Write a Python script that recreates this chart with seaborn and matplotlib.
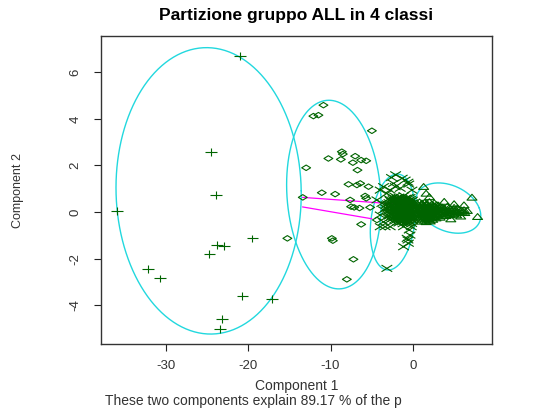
import numpy as np
import pandas as pd
import seaborn as sns
import matplotlib
matplotlib.use("Agg")
import matplotlib.pyplot as plt
from matplotlib.path import Path
from matplotlib.markers import MarkerStyle

# ---------------- data ----------------
title_text = "Partizione gruppo ALL in 4 classi"
xlabel_text = "Component 1"
ylabel_text = "Component 2"
sub_text = "These two components explain 89.17 % of the p"

x_ticks = [-30, -20, -10, 0]
x_tick_labels = ["-30", "-20", "-10", "0"]
y_ticks = [-4, -2, 0, 2, 4, 6]
y_tick_labels = ["-4", "-2", "0", "2", "4", "6"]
x_limits = [-37.9, 9.6]
y_limits = [-5.68, 7.56]

# cluster 1 (+)
c1_x = [-20.98, -24.54, -23.94, -35.89, -19.49, -23.82, -22.93, -24.71,
        -32.13, -30.70, -20.70, -17.13, -23.21, -23.41]
c1_y = [6.70, 2.58, 0.73, 0.04, -1.13, -1.42, -1.45, -1.80,
        -2.46, -2.85, -3.61, -3.72, -4.58, -5.03]

# cluster 2 (diamonds)
c2_x = [-10.86, -12.08, -11.47, -4.98, -8.63, -8.51, -10.26, -8.75, -7.01,
        -6.28, -5.67, -7.29, -6.73, -12.96, -7.82, -6.80, -6.40, -5.39,
        -11.06, -9.44, -7.62, -5.80, -5.67, -13.37, -7.50, -7.13, -6.49,
        -5.19, -4.37, -6.28, -15.24, -9.84, -9.72, -7.22, -8.02]
c2_y = [4.59, 4.12, 4.16, 3.49, 2.59, 2.49, 2.30, 2.26, 2.40,
        2.23, 2.20, 2.12, 1.80, 1.90, 1.19, 1.16, 1.23, 1.09,
        0.83, 0.77, 0.52, 0.69, 0.59, 0.63, 0.23, 0.20, 0.17,
        0.20, -0.34, -0.53, -1.13, -1.13, -1.23, -2.03, -2.89]

# cluster 3 (x)
c3_x = [-2.10, -0.94, -0.50, -3.97, -2.15, -3.16, -2.76, -4.37, -3.57, -3.97,
        -2.76, -1.14, -3.37, -0.45, -0.20, -0.55, -1.14, -3.16, -0.35, -2.60,
        -1.30, -0.60, -2.36, -3.57, -1.54, -0.12, -0.70, -3.77, -3.16, -3.57,
        -2.76, -3.97, -2.36, -2.55, -0.60,
        -2.2, -1.7, -1.1, -0.6,
        -2.9, -2.4, -1.9, -1.4, -0.9, -0.3,
        -2.6, -2.1, -1.6, -1.2, -0.7, -0.2,
        -3.1, -2.3, -1.8, -1.3, -0.9, -0.4, 0.0,
        -2.7, -2.0, -1.5, -1.0, -0.6, -0.1,
        -3.3, -2.4, -1.9, -1.3, -0.8, -0.3, 0.1,
        -2.8, -2.1, -1.6, -1.1, -0.5, 0.0,
        -3.0, -2.3, -1.8, -1.2, -0.7, -0.2, 0.15,
        -2.6, -2.0, -1.4, -0.9, -0.4, 0.05,
        -2.9, -2.2, -1.7, -1.1, -0.6, -0.1,
        -2.4, -1.9, -1.3, -0.8, -0.3, 0.1,
        -2.1, -1.5, -1.0, -0.5, -0.05,
        -1.7, -1.2, -0.6, -0.15,
        -2.45, -1.95, -1.4, -0.85, -0.35,
        -2.75, -2.2, -1.65, -1.1, -0.55, -0.05,
        -2.9, -2.0, -1.45, -1.0, -0.5, -0.1,
        -3.2, -2.5, -1.7, -1.2, -0.75, -0.25,
        -2.9, -2.15, -1.65, -1.1, -0.55, -0.05,
        -3.1, -2.6, -1.85, -1.35, -0.75, -0.25,
        -2.55, -2.0, -1.45, -0.95, -0.4, 0.1,
        -2.8, -2.15, -1.6, -1.05, -0.55, -0.05,
        -2.45, -1.9, -1.3, -0.8, -0.3,
        -2.65, -2.0, -1.45, -0.9, -0.4, 0.0,
        -2.2, -1.65, -1.15, -0.6, -0.15,
        -1.9, -1.3, -0.8, -0.3]
c3_y = [1.60, 1.37, 1.20, 0.94, 1.09, 0.80, 0.94, 0.52, 0.09, -0.13,
        -0.34, -0.63, -0.63, -0.77, -0.63, -1.34, -1.49, -2.42, -0.99, 1.48,
        1.45, 1.28, 1.23, 1.09, 1.02, 0.94, -1.13, 0.37, -0.20, -0.42,
        -0.63, -0.63, 0.23, -0.06, -1.20,
        0.68, 0.64, 0.70, 0.62,
        0.57, 0.53, 0.56, 0.52, 0.58, 0.54,
        0.44, 0.47, 0.43, 0.46, 0.42, 0.47,
        0.35, 0.38, 0.34, 0.37, 0.33, 0.36, 0.39,
        0.26, 0.29, 0.25, 0.28, 0.24, 0.27,
        0.17, 0.19, 0.16, 0.20, 0.15, 0.18, 0.16,
        0.08, 0.11, 0.07, 0.10, 0.06, 0.09,
        0.01, -0.02, 0.02, -0.01, 0.03, -0.02, 0.00,
        -0.08, -0.11, -0.07, -0.10, -0.08, -0.10,
        -0.17, -0.19, -0.16, -0.20, -0.17, -0.19,
        -0.27, -0.30, -0.26, -0.29, -0.27, -0.30,
        -0.37, -0.40, -0.36, -0.39, -0.37,
        -0.47, -0.50, -0.46, -0.49,
        0.61, 0.60, 0.63, 0.59, 0.62,
        0.50, 0.49, 0.52, 0.50, 0.48, 0.51,
        0.40, 0.41, 0.39, 0.40, 0.42, 0.38,
        0.31, 0.30, 0.32, 0.30, 0.31, 0.29,
        0.22, 0.23, 0.21, 0.22, 0.24, 0.21,
        0.13, 0.12, 0.14, 0.12, 0.13, 0.11,
        0.04, 0.05, 0.03, 0.04, 0.05, 0.03,
        -0.05, -0.04, -0.06, -0.05, -0.04, -0.06,
        -0.14, -0.13, -0.15, -0.14, -0.13,
        -0.23, -0.24, -0.22, -0.23, -0.24, -0.22,
        -0.33, -0.32, -0.34, -0.33, -0.32,
        -0.43, -0.42, -0.44, -0.43]

# cluster 4 (triangles)
c4_x = [1.30, 7.17, 7.85, 3.8, 5.0, 6.2, 4.6, 2.0, 1.6,
        0.8, 1.4, 2.0,
        0.6, 1.1, 1.7, 2.3, 2.9,
        0.9, 1.5, 2.1, 2.7, 3.4, 4.2,
        0.7, 1.2, 1.8, 2.4, 3.0, 3.8, 4.6, 5.4,
        1.0, 1.6, 2.2, 2.8, 3.5, 4.3, 5.1, 5.9, 6.6,
        0.8, 1.3, 1.9, 2.5, 3.2, 4.0, 4.8, 5.6, 6.3,
        1.1, 1.7, 2.3, 2.9, 3.7, 4.5, 5.3,
        0.9, 1.4, 2.0, 2.6, 3.3, 5.8,
        1.2, 1.8, 2.4,
        1.0, 1.6, 2.1,
        1.1, 1.7, 2.6,
        0.7, 1.3, 1.9, 2.5, 3.1,
        1.0, 1.6, 2.2, 2.9, 3.6, 4.4, 5.0,
        0.8, 1.4, 2.0, 2.6, 3.3, 4.0, 4.9, 5.6, 6.2,
        1.1, 1.7, 2.3, 3.0, 3.7, 4.5, 5.3, 6.0,
        0.9, 1.5, 2.1, 2.7, 3.4, 4.2, 5.0,
        1.2, 1.8, 2.4, 3.0, 4.0,
        1.0, 1.6, 2.2, 2.8,
        1.4, 2.0]
c4_y = [1.09, 0.63, -0.20, 0.45, 0.35, 0.30, -0.30, 0.65, 0.80,
        0.43, 0.41, 0.44,
        0.33, 0.35, 0.32, 0.34, 0.31,
        0.24, 0.26, 0.23, 0.25, 0.22, 0.25,
        0.15, 0.17, 0.14, 0.16, 0.13, 0.16, 0.14, 0.17,
        0.06, 0.08, 0.05, 0.07, 0.04, 0.07, 0.05, 0.08, 0.06,
        -0.03, -0.01, -0.04, -0.02, -0.05, -0.02, -0.04, -0.01, -0.03,
        -0.12, -0.10, -0.13, -0.11, -0.14, -0.11, -0.13,
        -0.21, -0.19, -0.22, -0.20, -0.23, -0.18,
        -0.31, -0.29, -0.32,
        -0.40, -0.42, -0.39,
        0.38, 0.37, 0.39,
        0.28, 0.29, 0.27, 0.28, 0.29,
        0.19, 0.20, 0.18, 0.19, 0.20, 0.18, 0.19,
        0.10, 0.11, 0.09, 0.10, 0.11, 0.09, 0.10, 0.11, 0.09,
        0.01, 0.02, 0.00, 0.01, 0.02, 0.00, 0.01, 0.02,
        -0.08, -0.07, -0.09, -0.08, -0.07, -0.09, -0.08,
        -0.17, -0.16, -0.18, -0.17, -0.16,
        -0.26, -0.27, -0.25, -0.26,
        -0.36, -0.35]

# spanning ellipses: centre, radii and shear terms
ell_cx = [-24.8, -9.6, -2.45, 4.3]
ell_cy = [0.91, 0.75, -0.43, 0.17]
ell_rx = [11.24, 5.7, 2.67, 3.75]
ell_ry = [6.15, 4.05, 2.06, 1.08]
ell_sx = [-0.25, -0.6, 0.55, -1.2]
ell_sy = [0.0, 0.0, 0.0, 0.0]

# distance segments between ellipses
seg_x0 = [-13.4, -13.4]
seg_y0 = [0.63, 0.22]
seg_x1 = [0.5, -4.98]
seg_y1 = [0.28, -0.29]

# ---------------- style ----------------
W, H = 548, 408
point_col = "#006400"
ell_col = "#22D8DE"
seg_col = "#FF00FF"

sns.set_style("white")
plt.rcParams["font.family"] = ["Liberation Sans", "DejaVu Sans"]

fig = plt.figure(figsize=(W / 100, H / 100), dpi=100)
ax_l, ax_r, ax_t, ax_b = 100.7, 492.0, 36.0, 344.3
ax = fig.add_axes([ax_l / W, 1 - ax_b / H, (ax_r - ax_l) / W, (ax_b - ax_t) / H])

# ellipses
t = np.linspace(0, 2 * np.pi, 400)
for cx, cy, rx, ry, sx, sy in zip(ell_cx, ell_cy, ell_rx, ell_ry, ell_sx, ell_sy):
    ex = cx + rx * np.cos(t) + sx * np.sin(t)
    ey = cy + ry * np.sin(t) + sy * np.cos(t)
    ax.plot(ex, ey, color=ell_col, lw=1.0, zorder=1)

# segments
for x0, y0, x1, y1 in zip(seg_x0, seg_y0, seg_x1, seg_y1):
    ax.plot([x0, x1], [y0, y1], color=seg_col, lw=0.9, zorder=1.5)

MV, LN, CL = Path.MOVETO, Path.LINETO, Path.CLOSEPOLY
plus_m = MarkerStyle(Path([(-1, 0), (1, 0), (0, -0.66), (0, 0.66)], [MV, LN, MV, LN]))
cross_m = MarkerStyle(Path([(-1, -0.62), (1, 0.62), (-1, 0.62), (1, -0.62)], [MV, LN, MV, LN]))
diam_m = MarkerStyle(Path([(-1, 0), (0, 0.62), (1, 0), (0, -0.62), (-1, 0)], [MV, LN, LN, LN, CL]))
tri_m = MarkerStyle(Path([(-1, -0.55), (1, -0.55), (0, 0.62), (-1, -0.55)], [MV, LN, LN, CL]))

clusters = [
    (c1_x, c1_y, plus_m, 8.4),
    (c2_x, c2_y, diam_m, 6.4),
    (c3_x, c3_y, cross_m, 7.7),
    (c4_x, c4_y, tri_m, 7.2),
]
for xs, ys, mk, ms in clusters:
    df = pd.DataFrame({"x": xs, "y": ys})
    sns.scatterplot(data=df, x="x", y="y", marker=mk, s=ms ** 2, color=point_col,
                    facecolor="none", edgecolor=point_col, linewidth=0.8,
                    legend=False, ax=ax, zorder=3)

ax.set_xlim(x_limits)
ax.set_ylim(y_limits)
ax.set_xticks(x_ticks)
ax.set_xticklabels(x_tick_labels)
ax.set_yticks(y_ticks)
ax.set_yticklabels(y_tick_labels, rotation=90, va="center")
ax.tick_params(axis="both", direction="out", length=5, width=0.8, color="#222222",
               labelcolor="#333333", labelsize=9.5, bottom=True, left=True)
ax.tick_params(axis="x", pad=6)
ax.tick_params(axis="y", pad=9)
for sp in ax.spines.values():
    sp.set_color("#333333")
    sp.set_linewidth(1.0)

ax.set_xlabel(xlabel_text, fontsize=10, color="#333333")
ax.set_ylabel(ylabel_text, fontsize=9, color="#333333")
ax.xaxis.set_label_coords(0.5, (ax_b - 386) / (ax_b - ax_t))
ax.yaxis.set_label_coords((18 - ax_l) / (ax_r - ax_l), 0.5)
ax.xaxis.label.set_va("center")
ax.yaxis.label.set_va("center")

fig.text((ax_l + ax_r) / 2 / W, 1 - 15.7 / H, title_text, ha="center", va="center",
         fontsize=12.5, fontweight="bold", color="black")
fig.text(104.6 / W, 1 - 401.5 / H, sub_text, ha="left", va="center",
         fontsize=10, color="#333333")

fig.savefig("out.png", dpi=100, facecolor="white")
